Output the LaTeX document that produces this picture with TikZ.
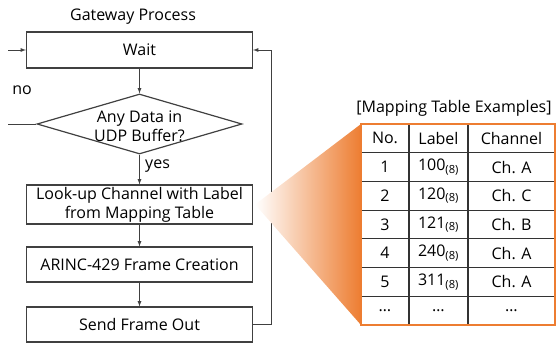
\documentclass[tikz,border=0pt]{standalone}
\usepackage{fontspec}
\setmainfont{Open Sans}
\usepackage{xcolor}
\usepackage{tikz}
\usetikzlibrary{arrows}
\usetikzlibrary{shapes.geometric}
\definecolor{maporange}{HTML}{ED7D31}
\definecolor{lncol}{HTML}{404040}

\begin{document}
\begin{tikzpicture}[
  x=1pt, y=-1pt,
  >=latex,
  font=\fontsize{16}{19}\selectfont,
  proc/.style={draw=lncol, line width=1.2pt, minimum width=226pt, inner sep=0pt, align=center},
  conn/.style={draw=lncol, line width=0.8pt},
  grid/.style={draw=black!80, line width=1.2pt},
]
\useasboundingbox (0,0) rectangle (560,343);

% flow chart
\node (title) at (133,17) {Gateway Process};
\node [proc, minimum height=36pt] (wait) at (139.5,50) {Wait};
\node [diamond, draw=lncol, line width=1.2pt, minimum width=205pt, minimum height=60pt, inner sep=0pt] (check) at (139.5,124) {};
\node [align=center] (checktxt) at ([yshift=-2pt]check.center) {Any Data in\\UDP Buffer?};
\node [proc, minimum height=39pt] (lookup) at (139.5,204.5) {Look-up Channel with Label\\from Mapping Table};
\node [proc, minimum height=35pt] (frame) at (139.5,264.5) {ARINC-429 Frame Creation};
\node [proc, minimum height=35pt] (send) at (139.5,324.5) {Send Frame Out};
\node (no) at (22,90) {no};

\coordinate (inlet) at (8,50);
\coordinate (nolet) at (8,124);
\coordinate (loop) at (271,50);

\draw [conn,->] (inlet) -- (wait.west);
\draw [conn] (check.west) -- (nolet);
\draw [conn,->] (wait) -- (check);
\draw [conn,->] (check) -- (lookup) node [pos=0.4, right, xshift=2pt] (yes) {yes};
\draw [conn,->] (lookup) -- (frame);
\draw [conn,->] (frame) -- (send);
\draw [conn,->] (send.east) -| (loop) -- (wait.east);

% mapping table
\node (maptitle) at (454,108) {[Mapping Table Examples]};
\shade [left color=white, right color=maporange] ([xshift=2pt]lookup.east) -- (361,124) -- (361,325) -- cycle;
\fill [white] (361,124) rectangle (555,325);
\foreach \r in {1,...,6}
  \draw [grid] (361,{124+28.71*\r}) -- (555,{124+28.71*\r});
\draw [grid] (409,124) -- (409,325);
\draw [grid] (468,124) -- (468,325);
\draw [draw=maporange, line width=2pt] (361,124) rectangle (555,325);

\foreach \no/\lab/\ch [count=\r from 0] in {No./Label/Channel,
    1/100\textsubscript{(8)}/Ch. A, 2/120\textsubscript{(8)}/Ch. C,
    3/121\textsubscript{(8)}/Ch. B, 4/240\textsubscript{(8)}/Ch. A,
    5/311\textsubscript{(8)}/Ch. A, \ldots/\ldots/\ldots}
{
  \node (no\r) at (385,{124+28.71*(\r+0.5)}) {\no};
  \node (lab\r) at (438.5,{124+28.71*(\r+0.5)}) {\lab};
  \node (ch\r) at (511.5,{124+28.71*(\r+0.5)}) {\ch};
}

\end{tikzpicture}
\end{document}
